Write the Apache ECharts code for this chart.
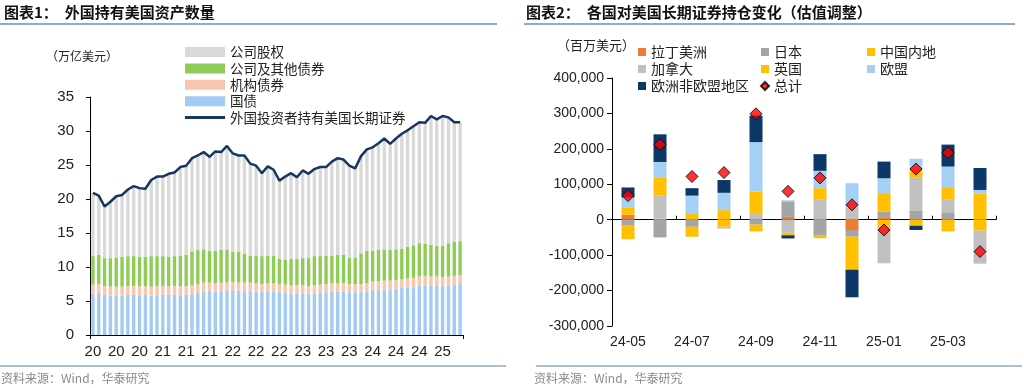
<!DOCTYPE html>
<html><head><meta charset="utf-8">
<script src="https://cdn.jsdelivr.net/npm/echarts@6/dist/echarts.min.js"></script>
<style>html,body{margin:0;padding:0;background:#fff;}#c{width:1024px;height:388px;}</style>
</head><body><div id="c"></div>
<script>
// ---------- Chart 1: foreign holdings of US assets (trillion USD), monthly 2020-01 .. 2025-04
const leftMonths = [];
for (let i = 0; i < 64; i++) { const y = 2020 + Math.floor(i / 12); const m = (i % 12) + 1; leftMonths.push(y + '-' + (m < 10 ? '0' + m : m)); }
const treasury = [6.1,6.2,5.9,5.8,5.8,5.8,5.9,5.9,5.9,5.9,5.8,5.9,
  5.9,5.9,5.9,5.9,5.9,6.0,6.2,6.4,6.5,6.4,6.5,6.5,
  6.6,6.5,6.5,6.5,6.4,6.3,6.4,6.4,6.3,6.2,6.1,6.1,
  6.1,6.0,6.1,6.2,6.3,6.4,6.4,6.4,6.3,6.3,6.3,6.4,
  6.6,6.6,6.7,6.7,6.8,6.9,7.0,7.1,7.2,7.3,7.2,7.3,
  7.2,7.3,7.4,7.5];
const agency = [1.3,1.3,1.3,1.3,1.3,1.3,1.3,1.3,1.3,1.3,1.3,1.3,
  1.3,1.3,1.3,1.3,1.3,1.3,1.3,1.3,1.2,1.2,1.2,1.2,
  1.2,1.2,1.2,1.2,1.2,1.2,1.2,1.2,1.2,1.2,1.2,1.2,
  1.2,1.2,1.2,1.2,1.2,1.2,1.2,1.2,1.2,1.2,1.2,1.2,
  1.3,1.3,1.3,1.3,1.3,1.3,1.3,1.3,1.4,1.4,1.4,1.4,
  1.3,1.3,1.3,1.3];
const corporate = [4.2,4.3,4.1,4.2,4.3,4.4,4.4,4.4,4.3,4.3,4.5,4.4,
  4.4,4.3,4.4,4.5,4.6,5.0,5.0,4.9,4.7,4.8,4.8,4.8,
  4.4,4.5,4.3,4.0,4.1,4.1,4.1,4.1,3.7,3.7,3.9,3.9,
  4.0,4.1,4.3,4.2,4.2,4.1,4.2,4.2,3.9,3.9,4.5,4.8,
  4.5,4.6,4.6,4.5,4.5,4.5,4.7,4.8,4.9,4.7,4.7,4.4,
  4.6,4.9,5.0,5.0];
const equity = [9.3,8.7,7.6,8.3,9.0,9.1,9.8,10.3,10.1,10.0,11.2,11.7,
  11.7,12.2,12.3,13.0,13.1,13.7,13.9,14.3,13.8,14.6,14.4,15.3,
  14.5,14.2,14.4,13.5,13.2,12.2,13.1,12.6,11.5,12.2,12.6,12.0,
  12.9,12.4,12.8,13.1,13.0,13.8,14.2,14.0,13.5,13.1,14.3,14.9,
  15.2,15.7,16.3,15.6,16.3,16.9,17.1,17.5,17.8,17.8,18.9,18.6,
  19.1,18.5,17.6,17.5];
const totalHoldings = [20.9,20.5,18.9,19.6,20.4,20.6,21.4,21.9,21.6,21.5,22.8,23.3,
  23.3,23.7,23.9,24.7,24.9,26.0,26.4,26.9,26.2,27.0,26.9,27.8,
  26.7,26.4,26.4,25.2,24.9,23.8,24.8,24.3,22.7,23.3,23.8,23.2,
  24.2,23.7,24.4,24.7,24.7,25.5,26.0,25.8,24.9,24.5,26.3,27.3,
  27.6,28.2,28.9,28.1,28.9,29.6,30.1,30.7,31.3,31.2,32.2,31.7,
  32.2,32.0,31.3,31.3];
const leftTicks = [0, 35, 5];

// ---------- Chart 2: changes in holdings by country (million USD)
const rightMonths = ['24-05','24-06','24-07','24-08','24-09','24-10','24-11','24-12','25-01','25-02','25-03','25-04'];
const latam  = [14000, 0, 0, 0, 0, 8000, 0, -29000, 7000, 0, 0, 0];
const japan  = [-15000, -50000, -20000, 0, -14000, 44000, -43000, -19000, 16000, 25000, 21000, 0];
const china  = [-40000, 3000, -28000, -20000, -19000, 0, -9000, -93000, -20000, -17000, -33000, -31000];
const canada = [0, 66000, 0, -5000, 16000, -37000, 58000, 35000, -103000, 95000, 37000, -93000];
const uk     = [21000, 49000, 16000, 27000, 63000, -7000, 31000, 0, 52000, 23000, 34000, 73000];
const eu     = [28000, 45000, 52000, 49000, 140000, 3000, 49000, 68000, 42000, 29000, 58000, 11000];
const nonEU  = [28000, 78000, 21000, 36000, 75000, -9000, 47000, -78000, 47000, -12000, 62000, 62000];
const total  = [68000, 212000, 122000, 133000, 299000, 80000, 118000, 42000, -29000, 143000, 189000, -90000];
const rightTicks = [-300000, 400000, 100000];

const CJK = "'Noto Sans CJK SC', sans-serif";
const NUM = "'Liberation Sans', Arial, 'Noto Sans CJK SC', sans-serif";
const addCommas = v => String(v).replace(/\B(?=(\d{3})+(?!\d))/g, ',');

const chart = echarts.init(document.getElementById('c'), null, {renderer: 'canvas'});
const barW = '58%';
const legText = {fontFamily: CJK, fontSize: 13.5, color: '#222', lineHeight: 14};
const rLegText = {fontFamily: CJK, fontSize: 14, color: '#222', lineHeight: 14};
const option = {
  animation: false,
  backgroundColor: '#fff',
  grid: [
    {left: 90, top: 97, width: 373, height: 238},
    {left: 612, top: 78, width: 384, height: 248}
  ],
  xAxis: [
    {gridIndex: 0, type: 'category', data: leftMonths, boundaryGap: true,
      axisLine: {lineStyle: {color: '#000', width: 1}},
      axisTick: {show: true, interval: 63, length: 4, lineStyle: {color: '#000'}},
      axisLabel: {interval: 3, formatter: v => v.slice(2, 4), fontFamily: NUM, fontSize: 15, color: '#222', margin: 9}},
    {gridIndex: 1, type: 'category', data: rightMonths, position: 'bottom',
      axisLine: {show: false, onZero: false}, axisTick: {show: false},
      axisLabel: {interval: 1, fontFamily: NUM, fontSize: 14, color: '#222', margin: 9}},
    {gridIndex: 1, type: 'category', data: rightMonths,
      axisLine: {show: true, onZero: true, lineStyle: {color: '#000', width: 1}},
      axisTick: {show: true, interval: 1, length: 4, lineStyle: {color: '#000'}},
      axisLabel: {show: false}}
  ],
  yAxis: [
    {gridIndex: 0, type: 'value', min: leftTicks[0], max: leftTicks[1], interval: leftTicks[2],
      axisLine: {show: true, lineStyle: {color: '#000', width: 1}},
      axisTick: {show: true, length: 4, lineStyle: {color: '#000'}},
      splitLine: {show: false},
      axisLabel: {fontFamily: NUM, fontSize: 15, color: '#222', margin: 16}},
    {gridIndex: 1, type: 'value', min: rightTicks[0], max: rightTicks[1], interval: rightTicks[2],
      axisLine: {show: true, lineStyle: {color: '#000', width: 1}},
      axisTick: {show: true, length: 5, lineStyle: {color: '#000'}},
      splitLine: {show: false},
      axisLabel: {fontFamily: NUM, fontSize: 14, color: '#222', margin: 8, formatter: v => addCommas(v)}}
  ],
  legend: [
    {orient: 'vertical', left: 180, top: 40, itemWidth: 40, itemHeight: 10, itemGap: 2.4,
      textStyle: legText,
      data: [
        {name: '公司股权', icon: 'rect'},
        {name: '公司及其他债券', icon: 'rect'},
        {name: '机构债券', icon: 'rect'},
        {name: '国债', icon: 'rect'}
      ]},
    {orient: 'vertical', left: 180, top: 105.6, itemWidth: 40, itemHeight: 3,
      textStyle: legText,
      data: [{name: '外国投资者持有美国长期证券', icon: 'rect'}]},
    {orient: 'vertical', left: 633, top: 40, itemWidth: 8, itemHeight: 8, itemGap: 3,
      textStyle: rLegText,
      data: [{name: '拉丁美洲', icon: 'rect'}, {name: '加拿大', icon: 'rect'}, {name: '欧洲非欧盟地区', icon: 'rect'}]},
    {orient: 'vertical', left: 755, top: 40, itemWidth: 8, itemHeight: 8, itemGap: 3,
      textStyle: rLegText,
      data: [{name: '日本', icon: 'rect'}, {name: '英国', icon: 'rect'}, {name: '总计', icon: 'diamond'}]},
    {orient: 'vertical', left: 862, top: 40, itemWidth: 8, itemHeight: 8, itemGap: 3,
      textStyle: rLegText,
      data: [{name: '中国内地', icon: 'rect'}, {name: '欧盟', icon: 'rect'}]}
  ],
  series: [
    {name: '国债', type: 'bar', stack: 'h', xAxisIndex: 0, yAxisIndex: 0, data: treasury, barWidth: barW, itemStyle: {color: '#a3cbf2'}},
    {name: '机构债券', type: 'bar', stack: 'h', xAxisIndex: 0, yAxisIndex: 0, data: agency, barWidth: barW, itemStyle: {color: '#f6c6ae'}},
    {name: '公司及其他债券', type: 'bar', stack: 'h', xAxisIndex: 0, yAxisIndex: 0, data: corporate, barWidth: barW, itemStyle: {color: '#8fcc57'}},
    {name: '公司股权', type: 'bar', stack: 'h', xAxisIndex: 0, yAxisIndex: 0, data: equity, barWidth: barW, itemStyle: {color: '#d9d9d9'}},
    {name: '外国投资者持有美国长期证券', type: 'line', xAxisIndex: 0, yAxisIndex: 0, data: totalHoldings,
      symbol: 'none', lineStyle: {color: '#17375e', width: 2.5}, itemStyle: {color: '#17375e'}, z: 5},

    {name: '拉丁美洲', type: 'bar', stack: 'c', xAxisIndex: 1, yAxisIndex: 1, data: latam, barWidth: 13, itemStyle: {color: '#ed7d31'}},
    {name: '日本', type: 'bar', stack: 'c', xAxisIndex: 1, yAxisIndex: 1, data: japan, barWidth: 13, itemStyle: {color: '#a5a5a5'}},
    {name: '中国内地', type: 'bar', stack: 'c', xAxisIndex: 1, yAxisIndex: 1, data: china, barWidth: 13, itemStyle: {color: '#ffc000'}},
    {name: '加拿大', type: 'bar', stack: 'c', xAxisIndex: 1, yAxisIndex: 1, data: canada, barWidth: 13, itemStyle: {color: '#c0c0c0'}},
    {name: '英国', type: 'bar', stack: 'c', xAxisIndex: 1, yAxisIndex: 1, data: uk, barWidth: 13, itemStyle: {color: '#ffc000'}},
    {name: '欧盟', type: 'bar', stack: 'c', xAxisIndex: 1, yAxisIndex: 1, data: eu, barWidth: 13, itemStyle: {color: '#a6cff5'}},
    {name: '欧洲非欧盟地区', type: 'bar', stack: 'c', xAxisIndex: 1, yAxisIndex: 1, data: nonEU, barWidth: 13, itemStyle: {color: '#0b3866'}},
    {name: '总计', type: 'scatter', xAxisIndex: 1, yAxisIndex: 1, data: total, symbol: 'diamond', symbolSize: 12,
      itemStyle: {color: '#ff0000', borderColor: '#000', borderWidth: 1}, z: 10}
  ],
  graphic: [
    {type: 'text', left: 4, top: 5, style: {text: '图表1：  外国持有美国资产数量', font: "bold 15px 'Noto Sans CJK SC'", fill: '#111'}},
    {type: 'line', shape: {x1: 0, y1: 24, x2: 497, y2: 24}, style: {stroke: '#8eaacb', lineWidth: 2}},
    {type: 'text', left: 526, top: 5, style: {text: '图表2：  各国对美国长期证券持仓变化（估值调整）', font: "bold 15px 'Noto Sans CJK SC'", fill: '#111'}},
    {type: 'line', shape: {x1: 524, y1: 24, x2: 1015, y2: 24}, style: {stroke: '#8eaacb', lineWidth: 2}},
    {type: 'text', left: 46, top: 50, style: {text: '（万亿美元）', font: "12px 'Noto Sans CJK SC'", fill: '#222'}},
    {type: 'text', left: 557, top: 39, style: {text: '（百万美元）', font: "13px 'Noto Sans CJK SC'", fill: '#222'}},
    {type: 'line', shape: {x1: 0, y1: 366, x2: 506, y2: 366}, style: {stroke: '#8eaacb', lineWidth: 1.5}},
    {type: 'line', shape: {x1: 536, y1: 366, x2: 1022, y2: 366}, style: {stroke: '#8eaacb', lineWidth: 1.5}},
    {type: 'text', left: 1, top: 372, style: {text: '资料来源：Wind，华泰研究', font: "12px 'Noto Sans CJK SC'", fill: '#8a8a8a'}},
    {type: 'text', left: 534, top: 372, style: {text: '资料来源：Wind，华泰研究', font: "12px 'Noto Sans CJK SC'", fill: '#8a8a8a'}}
  ]
};
chart.setOption(option);
</script></body></html>
